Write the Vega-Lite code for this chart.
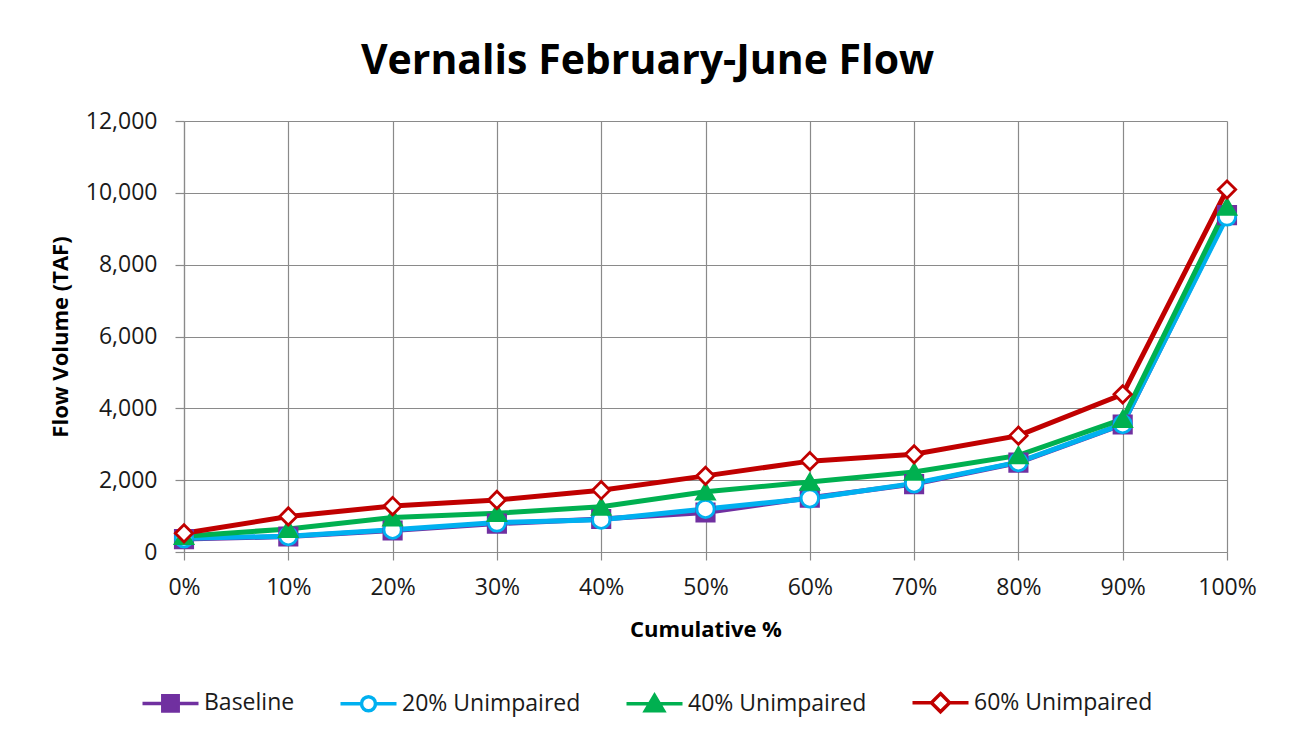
{
  "$schema": "https://vega.github.io/schema/vega-lite/v6.json",
  "width": 1043,
  "height": 431,
  "autosize": {"type": "none"},
  "padding": {"left": 184, "top": 121, "right": 66, "bottom": 188},
  "background": "white",
  "config": {"view": {"stroke": null}, "font": "Open Sans"},
  "title": {"text": "Vernalis February-June Flow", "font": "Open Sans", "fontSize": 41, "fontWeight": "bold", "color": "#000000", "offset": 27, "dx": -58},
  "data": {"values": [
    {"pct": 0, "series": "Baseline", "flow": 360},
    {"pct": 10, "series": "Baseline", "flow": 430},
    {"pct": 20, "series": "Baseline", "flow": 600},
    {"pct": 30, "series": "Baseline", "flow": 790},
    {"pct": 40, "series": "Baseline", "flow": 920},
    {"pct": 50, "series": "Baseline", "flow": 1100},
    {"pct": 60, "series": "Baseline", "flow": 1510},
    {"pct": 70, "series": "Baseline", "flow": 1890},
    {"pct": 80, "series": "Baseline", "flow": 2490},
    {"pct": 90, "series": "Baseline", "flow": 3550},
    {"pct": 100, "series": "Baseline", "flow": 9380},
    {"pct": 0, "series": "20% Unimpaired", "flow": 380},
    {"pct": 10, "series": "20% Unimpaired", "flow": 440},
    {"pct": 20, "series": "20% Unimpaired", "flow": 620},
    {"pct": 30, "series": "20% Unimpaired", "flow": 820},
    {"pct": 40, "series": "20% Unimpaired", "flow": 900},
    {"pct": 50, "series": "20% Unimpaired", "flow": 1200},
    {"pct": 60, "series": "20% Unimpaired", "flow": 1490},
    {"pct": 70, "series": "20% Unimpaired", "flow": 1910},
    {"pct": 80, "series": "20% Unimpaired", "flow": 2500},
    {"pct": 90, "series": "20% Unimpaired", "flow": 3560},
    {"pct": 100, "series": "20% Unimpaired", "flow": 9340},
    {"pct": 0, "series": "40% Unimpaired", "flow": 440},
    {"pct": 10, "series": "40% Unimpaired", "flow": 640},
    {"pct": 20, "series": "40% Unimpaired", "flow": 960},
    {"pct": 30, "series": "40% Unimpaired", "flow": 1080},
    {"pct": 40, "series": "40% Unimpaired", "flow": 1260},
    {"pct": 50, "series": "40% Unimpaired", "flow": 1680},
    {"pct": 60, "series": "40% Unimpaired", "flow": 1950},
    {"pct": 70, "series": "40% Unimpaired", "flow": 2230},
    {"pct": 80, "series": "40% Unimpaired", "flow": 2690},
    {"pct": 90, "series": "40% Unimpaired", "flow": 3700},
    {"pct": 100, "series": "40% Unimpaired", "flow": 9610},
    {"pct": 0, "series": "60% Unimpaired", "flow": 520},
    {"pct": 10, "series": "60% Unimpaired", "flow": 990},
    {"pct": 20, "series": "60% Unimpaired", "flow": 1280},
    {"pct": 30, "series": "60% Unimpaired", "flow": 1450},
    {"pct": 40, "series": "60% Unimpaired", "flow": 1720},
    {"pct": 50, "series": "60% Unimpaired", "flow": 2120},
    {"pct": 60, "series": "60% Unimpaired", "flow": 2530},
    {"pct": 70, "series": "60% Unimpaired", "flow": 2720},
    {"pct": 80, "series": "60% Unimpaired", "flow": 3240},
    {"pct": 90, "series": "60% Unimpaired", "flow": 4390},
    {"pct": 100, "series": "60% Unimpaired", "flow": 10090}
  ]},
  "encoding": {
    "x": {
      "field": "pct", "type": "quantitative",
      "scale": {"domain": [0, 100], "nice": false, "zero": true},
      "axis": {
        "title": "Cumulative %",
        "values": [0, 10, 20, 30, 40, 50, 60, 70, 80, 90, 100],
        "labelExpr": "datum.value + '%'",
        "grid": true, "gridColor": "#8a8a8a", "gridWidth": 1.2,
        "domainColor": "#8a8a8a", "domainWidth": 1.2,
        "tickColor": "#8a8a8a", "tickSize": 8, "tickWidth": 1.2,
        "labelFont": "Open Sans", "labelFontSize": 23, "labelColor": "#1a1a1a",
        "labelPadding": 16, "labelFlush": false, "labelOverlap": false,
        "titleFont": "Open Sans", "titleFontSize": 22, "titleFontWeight": "bold", "titleColor": "#000000",
        "titlePadding": 20
      }
    },
    "y": {
      "field": "flow", "type": "quantitative",
      "scale": {"domain": [0, 12000], "nice": false},
      "axis": {
        "title": "Flow Volume (TAF)",
        "values": [0, 2000, 4000, 6000, 8000, 10000, 12000],
        "format": ",.0f",
        "grid": true, "gridColor": "#8a8a8a", "gridWidth": 1.2,
        "domainColor": "#8a8a8a", "domainWidth": 1.2,
        "tickColor": "#8a8a8a", "tickSize": 9, "tickWidth": 1.2,
        "labelFont": "Open Sans", "labelFontSize": 23, "labelColor": "#1a1a1a",
        "labelPadding": 18, "labelFlush": false, "labelOverlap": false,
        "titleFont": "Open Sans", "titleFontSize": 22, "titleFontWeight": "bold", "titleColor": "#000000",
        "titlePadding": 13
      }
    }
  },
  "layer": [
    {
      "mark": {"type": "line", "strokeWidth": 5},
      "encoding": {
        "color": {
          "field": "series", "type": "nominal",
          "scale": {"domain": ["Baseline", "20% Unimpaired", "40% Unimpaired", "60% Unimpaired"], "range": ["#7030A0", "#00B0F0", "#00B050", "#C00000"]},
          "legend": null
        }
      }
    },
    {
      "mark": {"type": "point", "filled": true, "opacity": 1, "strokeWidth": 2.8, "size": 300},
      "encoding": {
        "shape": {
          "field": "series", "type": "nominal",
          "scale": {"domain": ["Baseline", "20% Unimpaired", "40% Unimpaired", "60% Unimpaired"], "range": ["square", "circle", "triangle-up", "diamond"]},
          "legend": null
        },
        "fill": {
          "field": "series", "type": "nominal",
          "scale": {"domain": ["Baseline", "20% Unimpaired", "40% Unimpaired", "60% Unimpaired"], "range": ["#7030A0", "#FFFFFF", "#00B050", "#FFFFFF"]},
          "legend": null
        },
        "stroke": {
          "field": "series", "type": "nominal",
          "scale": {"domain": ["Baseline", "20% Unimpaired", "40% Unimpaired", "60% Unimpaired"], "range": ["#7030A0", "#00B0F0", "#00B050", "#C00000"]},
          "legend": null
        }
      }
    },
    {
      "transform": [{"filter": "false"}],
      "mark": {"type": "point", "filled": true, "opacity": 1, "strokeWidth": 3.5, "size": 196},
      "encoding": {
        "shape": {
          "field": "series", "type": "nominal",
          "scale": {"domain": ["Baseline", "20% Unimpaired", "40% Unimpaired", "60% Unimpaired"], "range": [
            "M-4,0H4M-1.1,-1.1H1.1V1.1H-1.1Z",
            "M-4,0H-1M1,0H4M-1,0A1,1,0,1,0,1,0A1,1,0,1,0,-1,0Z",
            "M-4,0H4M0,-1.2L1.3,1H-1.3Z",
            "M-4,0H-1.3M1.3,0H4M0,-1.3L1.3,0L0,1.3L-1.3,0Z"
          ]},
          "legend": {"title": null, "orient": "none", "legendX": -25, "legendY": 570, "direction": "horizontal", "symbolSize": 196, "symbolStrokeWidth": 3.5, "symbolOpacity": 1, "labelFont": "Open Sans", "labelFontSize": 23, "labelColor": "#1a1a1a", "labelOffset": 22, "labelLimit": 400, "columnPadding": 38, "padding": 0}
        },
        "fill": {
          "field": "series", "type": "nominal",
          "scale": {"domain": ["Baseline", "20% Unimpaired", "40% Unimpaired", "60% Unimpaired"], "range": ["#7030A0", "#FFFFFF", "#00B050", "#FFFFFF"]},
          "legend": {"title": null, "orient": "none", "legendX": -25, "legendY": 570, "direction": "horizontal", "symbolSize": 196, "symbolStrokeWidth": 3.5, "symbolOpacity": 1, "labelFont": "Open Sans", "labelFontSize": 23, "labelColor": "#1a1a1a", "labelOffset": 22, "labelLimit": 400, "columnPadding": 38, "padding": 0}
        },
        "stroke": {
          "field": "series", "type": "nominal",
          "scale": {"domain": ["Baseline", "20% Unimpaired", "40% Unimpaired", "60% Unimpaired"], "range": ["#7030A0", "#00B0F0", "#00B050", "#C00000"]},
          "legend": {"title": null, "orient": "none", "legendX": -25, "legendY": 570, "direction": "horizontal", "symbolSize": 196, "symbolStrokeWidth": 3.5, "symbolOpacity": 1, "labelFont": "Open Sans", "labelFontSize": 23, "labelColor": "#1a1a1a", "labelOffset": 22, "labelLimit": 400, "columnPadding": 38, "padding": 0}
        }
      }
    }
  ],
  "resolve": {"scale": {"shape": "independent", "fill": "independent", "stroke": "independent"}}
}
